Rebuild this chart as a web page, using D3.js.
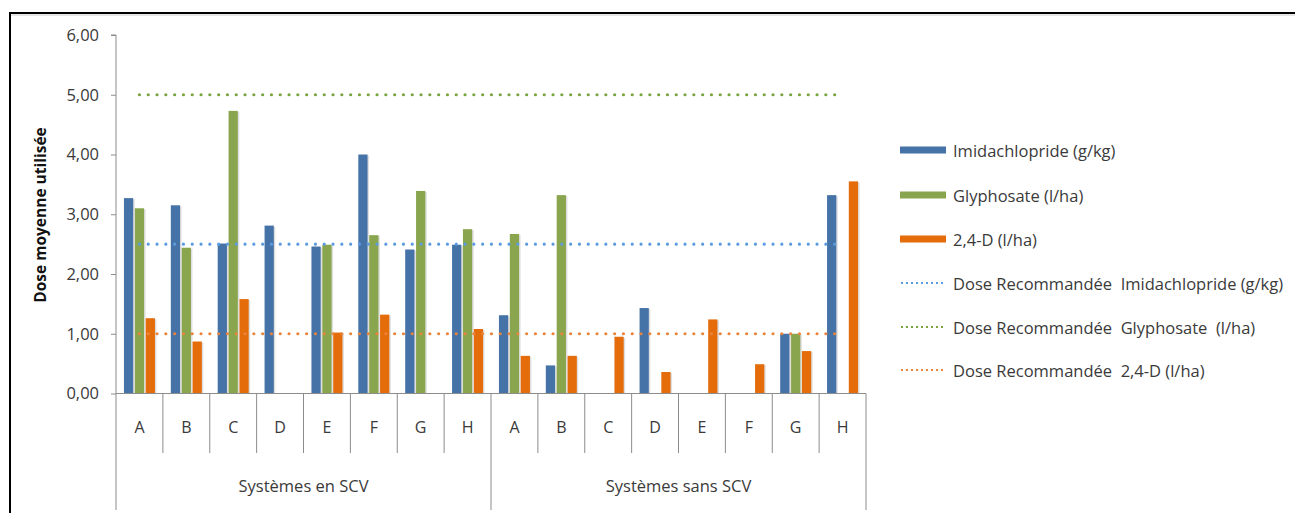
<!DOCTYPE html>
<html><head><meta charset="utf-8">
<script src="https://cdn.jsdelivr.net/npm/d3@7"></script>
<style>
body{margin:0;background:#fff}
svg{display:block}
text{font-family:"Open Sans",Lato,sans-serif;white-space:pre}
</style>
</head><body>
<svg id="chart" width="1295" height="513"></svg>
<script>
// Categories and groups on the two-level category axis
const categories = ["A","B","C","D","E","F","G","H"];
const groups = ["Systèmes en SCV","Systèmes sans SCV"];

// Mean dose used, per system (8 with SCV, then 8 without SCV); null = not used
const imidachlopride = [3.27,3.15,2.51,2.81,2.46,4.00,2.41,2.49, 1.31,0.47,null,1.43,null,null,1.00,3.32];
const glyphosate     = [3.10,2.44,4.73,null,2.49,2.65,3.39,2.75, 2.67,3.32,null,null,null,null,1.00,null];
const d24            = [1.26,0.87,1.58,null,1.02,1.32,null,1.08, 0.63,0.63,0.95,0.36,1.24,0.49,0.71,3.55];

const seriesNames = ["Imidachlopride (g/kg)","Glyphosate (l/ha)","2,4-D (l/ha)"];
const seriesColors = ["#4572a7","#89a54e","#e46c0a"];

// Recommended doses (dotted reference lines)
const refNames = ["Dose Recommandée  Imidachlopride (g/kg)","Dose Recommandée  Glyphosate  (l/ha)","Dose Recommandée  2,4-D (l/ha)"];
const refValues = [2.5,5.0,1.0];
const refColors = ["#5b9be0","#7aa33e","#e8843c"];

const yTicks = [0,1,2,3,4,5,6];
const yTitle = "Dose moyenne utilisée";

const svg = d3.select("#chart");

// outer frame (left and top edges visible)
svg.append("rect").attr("x",10).attr("y",13).attr("width",1310).attr("height",540)
  .attr("fill","none").attr("stroke","#000").attr("stroke-width",2);
svg.append("line").attr("x1",11).attr("x2",1295).attr("y1",15).attr("y2",15)
  .attr("stroke","#ccc").attr("stroke-width",1);

const plotLeft = 116, plotRight = 866, plotTop = 35, plotBottom = 393.5;
const keys = d3.range(groups.length * categories.length);
const x = d3.scaleBand().domain(keys).range([plotLeft,plotRight]).padding(0);
const y = d3.scaleLinear().domain([0,6]).range([plotBottom,plotTop]);
const xs = d3.scaleBand().domain(seriesNames).range([-15.5,15.5]).paddingInner(0.15);

const axisColor = "#8c8c8c";
const textColor = "#3a3a3a";

// y axis
const yAxis = svg.append("g").attr("transform",`translate(${plotLeft},0)`)
  .call(d3.axisLeft(y).tickValues(yTicks).tickSize(5).tickPadding(12)
    .tickFormat(d => d3.format(".2f")(d).replace(".",",")));
yAxis.select(".domain").attr("stroke",axisColor).attr("d",`M-5,${plotTop}H0V${plotBottom}`);
yAxis.selectAll(".tick line").attr("stroke",axisColor);
yAxis.selectAll(".tick text").attr("fill",textColor).attr("font-size",16.5)
  .style("font-family","'Open Sans',sans-serif");

svg.append("text").attr("transform",`translate(46,215) rotate(-90)`)
  .attr("text-anchor","middle").attr("font-size",15.5).attr("font-weight","bold")
  .style("font-family","'Open Sans',sans-serif")
  .attr("fill","#111").text(yTitle);

// bars
const series = [imidachlopride, glyphosate, d24];
const barData = [];
series.forEach((vals,si) => vals.forEach((v,i) => { if (v != null) barData.push({s:si,i,v}); }));

const bars = svg.append("g");
bars.selectAll("rect.shadow").data(barData).join("rect").attr("class","shadow")
  .attr("x",d => x(d.i) + x.bandwidth()/2 + xs(seriesNames[d.s]) + 1.5)
  .attr("y",d => y(d.v) + 1)
  .attr("width",xs.bandwidth()).attr("height",d => plotBottom - y(d.v) - 1)
  .attr("fill","#000").attr("opacity",0.13);
bars.selectAll("rect.bar").data(barData).join("rect").attr("class","bar")
  .attr("x",d => x(d.i) + x.bandwidth()/2 + xs(seriesNames[d.s]))
  .attr("y",d => y(d.v))
  .attr("width",xs.bandwidth()).attr("height",d => plotBottom - y(d.v))
  .attr("fill",d => seriesColors[d.s]);

// reference lines, from first to last category centre
const line = d3.line().x(d => d[0]).y(d => d[1]);
refValues.forEach((v,k) => {
  svg.append("path")
    .attr("d", line([[x(keys[0]) + x.bandwidth()/2, y(v)], [x(keys[keys.length-1]) + x.bandwidth()/2, y(v)]]))
    .attr("stroke",refColors[k]).attr("stroke-width",3.2).attr("stroke-linecap","round")
    .attr("stroke-dasharray","0 8.8").attr("fill","none");
});

// category axis
const cat = svg.append("g");
cat.append("line").attr("x1",plotLeft).attr("x2",plotRight).attr("y1",plotBottom).attr("y2",plotBottom)
  .attr("stroke",axisColor);
d3.range(keys.length + 1).forEach(j => {
  const xx = j < keys.length ? x(keys[j]) : plotRight;
  const major = j % categories.length === 0;
  cat.append("line").attr("x1",xx).attr("x2",xx).attr("y1",plotBottom)
    .attr("y2",major ? 510 : 453).attr("stroke",axisColor);
});
cat.selectAll("text.cat").data(keys).join("text").attr("class","cat")
  .attr("x",d => x(d) + x.bandwidth()/2).attr("y",433)
  .attr("text-anchor","middle").attr("font-size",16).attr("fill",textColor)
  .text(d => categories[d % categories.length]);
cat.selectAll("text.grp").data(groups).join("text").attr("class","grp")
  .attr("x",(d,g) => (x(g*categories.length) + (g === groups.length-1 ? plotRight : x((g+1)*categories.length)))/2)
  .attr("y",492).attr("text-anchor","middle").attr("font-size",16.5).attr("fill",textColor)
  .text(d => d);

// legend
const legendRows = [150,195,239,283,327,370];
const lg = svg.append("g");
seriesNames.forEach((n,k) => {
  lg.append("rect").attr("x",900).attr("y",legendRows[k]-3.5).attr("width",46).attr("height",7)
    .attr("fill",seriesColors[k]);
  lg.append("text").attr("x",953).attr("y",legendRows[k]+6.5).attr("font-size",16.5).attr("fill",textColor).text(n);
});
refNames.forEach((n,k) => {
  const yy = legendRows[3+k];
  lg.append("line").attr("x1",901).attr("x2",946).attr("y1",yy).attr("y2",yy)
    .attr("stroke",refColors[k]).attr("stroke-width",2).attr("stroke-dasharray","2 3");
  lg.append("text").attr("x",953).attr("y",yy+6.5).attr("font-size",16.5).attr("fill",textColor).text(n);
});
</script>
</body></html>
